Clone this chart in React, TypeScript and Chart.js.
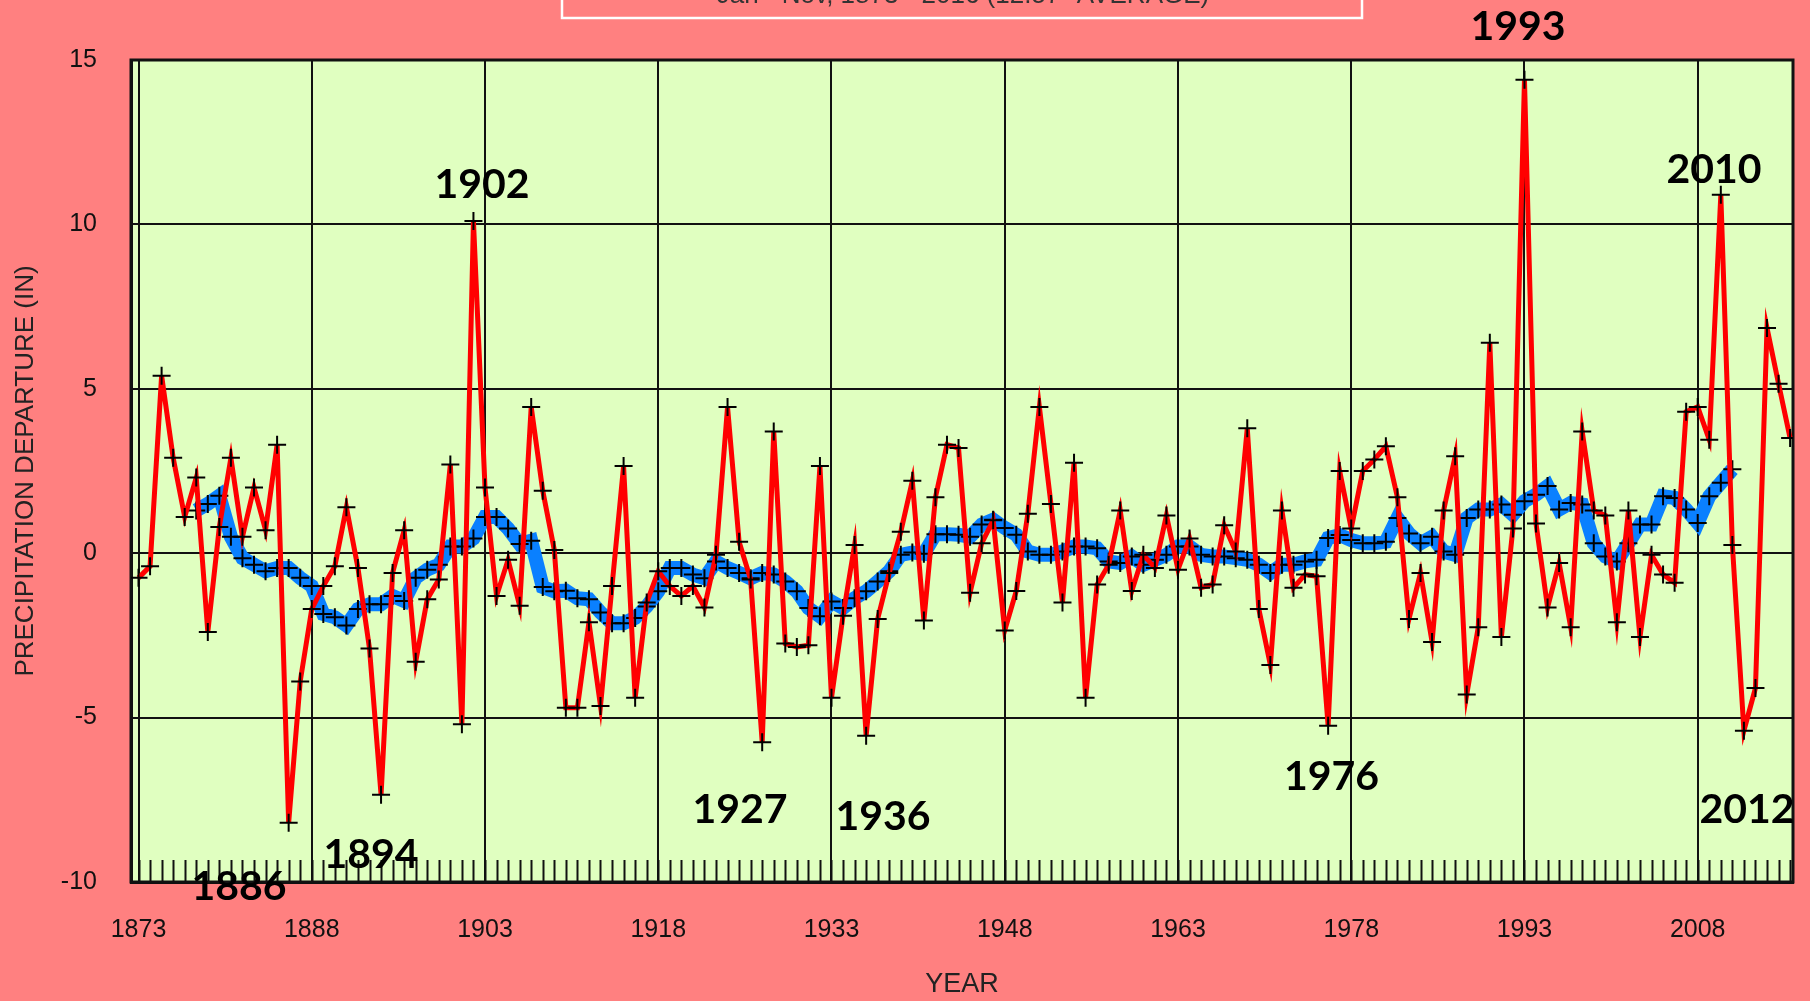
import React, { useEffect, useRef } from "react";
import { Chart, registerables } from "chart.js";

Chart.register(...registerables);

// ---------- data ----------
const FIRST_YEAR = 1873;
const ANNUAL_DEPARTURE = [
  -0.75, -0.4, 5.4, 2.9, 1.1, 2.3, -2.4,
  0.8, 2.9, 0.5, 2.0, 0.7, 3.3, -8.2, -3.9, -1.7, -1.0,
  -0.4, 1.4, -0.45, -2.9, -7.35, -0.6, 0.7, -3.3, -1.4, -0.8,
  2.7, -5.2, 10.1, 2.0, -1.3, -0.2, -1.6, 4.45, 1.9, 0.1,
  -4.7, -4.7, -2.1, -4.65, -1.0, 2.65, -4.4, -1.5, -0.55, -1.0,
  -1.3, -1.0, -1.65, -0.05, 4.45, 0.35, -0.8, -5.75, 3.7, -2.75,
  -2.85, -2.8, 2.65, -4.4, -1.9, 0.25, -5.55, -2.0, -0.6, 0.65,
  2.2, -2.05, 1.7, 3.3, 3.2, -1.2, 0.3, 1.0, -2.35, -1.15,
  1.2, 4.45, 1.5, -1.5, 2.75, -4.4, -0.95, -0.35, 1.3, -1.15,
  -0.05, -0.45, 1.15, -0.5, 0.45, -1.05, -0.95, 0.85, 0.05, 3.8,
  -1.7, -3.4, 1.3, -1.05, -0.65, -0.7, -5.25, 2.5, 0.75, 2.5,
  2.85, 3.25, 1.7, -2.0, -0.6, -2.7, 1.3, 2.95, -4.3, -2.25,
  6.4, -2.55, 0.75, 14.4, 0.9, -1.65, -0.3, -2.25, 3.7, 1.3,
  1.15, -2.1, 1.3, -2.55, -0.05, -0.65, -0.9, 4.3, 4.45, 3.45,
  10.9, 0.25, -5.4, -4.1, 6.85, 5.15, 3.5,
];

const MEAN_FIRST_YEAR = 1878;
const RUNNING_MEAN = [
  1.3, 1.5,
  1.75, 0.5, -0.15, -0.35, -0.55, -0.45, -0.45, -0.75, -1.0, -1.85,
  -1.95, -2.2, -1.7, -1.55, -1.55, -1.3, -1.45, -0.75, -0.5, -0.35,
  0.2, 0.2, 0.45, 1.1, 1.1, 0.75, 0.28, 0.38, -1.03, -1.16,
  -1.14, -1.37, -1.4, -1.8, -2.13, -2.13, -1.97, -1.62, -1.16, -0.45,
  -0.45, -0.65, -0.76, -0.25, -0.45, -0.6, -0.76, -0.6, -0.65, -0.86,
  -1.16, -1.67, -1.92, -1.47, -1.67, -1.37, -1.16, -0.86, -0.55, -0.05,
  0.02, -0.02, 0.58, 0.58, 0.56, 0.5, 0.87, 1.02, 0.77, 0.56,
  0.05, -0.05, -0.05, 0.05, 0.2, 0.2, 0.15, -0.25, -0.3, -0.1,
  -0.35, -0.2, -0.05, 0.2, 0.2, -0.05, -0.1, -0.1, -0.15, -0.2,
  -0.35, -0.6, -0.35, -0.35, -0.25, -0.2, 0.46, 0.55, 0.4, 0.3,
  0.3, 0.35, 1.07, 0.6, 0.3, 0.5, 0.05, -0.05, 1.07, 1.33,
  1.33, 1.48, 1.17, 1.58, 1.78, 2.04, 1.33, 1.53, 1.48, 0.3,
  -0.1, -0.25, 0.3, 0.87, 0.87, 1.73, 1.68, 1.33, 0.92, 1.73,
  2.14, 2.55,
];

const X_TICKS = [1873, 1888, 1903, 1918, 1933, 1948, 1963, 1978, 1993, 2008];
const Y_TICKS = [-10, -5, 0, 5, 10, 15];
const X_MIN = 1872.35;
const X_MAX = 2016.25;

const ANNOTATION_TEXTS = ["1993", "2010", "2012", "1976", "1902", "1927", "1936", "1894", "1886"];
const ANNOTATION_YEARS = [1992.44, 2009.41, 2012.27, 1976.29, 1902.74, 1925.08, 1937.46, 1893.13, 1881.7];
const ANNOTATION_VALUES = [16.0, 11.65, -7.81, -6.81, 11.2, -7.81, -8.02, -9.18, -10.15];

const TITLE_TEXT = 'Jan - Nov, 1873 - 2016 (12.57" AVERAGE)';
const Y_TITLE = "PRECIPITATION DEPARTURE (IN)";
const X_TITLE = "YEAR";

// ---------- styles ----------
const PAGE_BG = "#FF8080";
const PLOT_BG = "#E0FFC0";
const RED = "#FF0000";
const BLUE = "#0A80FF";
const AXIS_FONT = "'Liberation Sans', Arial, sans-serif";

const backgroundPlugin = {
  id: "bgPlugin",
  beforeDraw(chart: any) {
    const { ctx, chartArea } = chart;
    ctx.save();
    ctx.fillStyle = PAGE_BG;
    ctx.fillRect(0, 0, chart.width, chart.height);
    ctx.fillStyle = PLOT_BG;
    ctx.fillRect(chartArea.left, chartArea.top, chartArea.right - chartArea.left, chartArea.bottom - chartArea.top);
    ctx.restore();
  },
  beforeDatasetsDraw(chart: any) {
    const { ctx, chartArea, scales } = chart;
    const x = scales.x;
    ctx.save();
    ctx.strokeStyle = "#111";
    ctx.lineWidth = 2;
    const lastYear = FIRST_YEAR + ANNUAL_DEPARTURE.length - 1;
    for (let yr = FIRST_YEAR; yr <= lastYear; yr++) {
      const px = Math.round(x.getPixelForValue(yr)) + 0.5;
      ctx.beginPath();
      ctx.moveTo(px, chartArea.bottom - 22);
      ctx.lineTo(px, chartArea.bottom);
      ctx.stroke();
    }
    ctx.lineWidth = 3;
    ctx.strokeStyle = "#111";
    ctx.strokeRect(chartArea.left, chartArea.top, chartArea.right - chartArea.left, chartArea.bottom - chartArea.top);
    ctx.restore();
  },
  afterDraw(chart: any) {
    const { ctx, scales } = chart;
    ctx.save();
    // title box (mostly cut off at top)
    ctx.strokeStyle = "#FFFFFF";
    ctx.lineWidth = 2.5;
    ctx.strokeRect(562, -20, 800, 38);
    ctx.fillStyle = "#333";
    ctx.font = "26px " + AXIS_FONT;
    ctx.textAlign = "center";
    ctx.textBaseline = "alphabetic";
    ctx.fillText(TITLE_TEXT, 963, 3);
    // year annotations
    ctx.fillStyle = "#000";
    ctx.font = "bold 41px Lato, 'Open Sans', sans-serif";
    ctx.textBaseline = "middle";
    ANNOTATION_TEXTS.forEach((t, i) => {
      ctx.fillText(t, scales.x.getPixelForValue(ANNOTATION_YEARS[i]), scales.y.getPixelForValue(ANNOTATION_VALUES[i]));
    });
    ctx.restore();
  },
};

export default function App() {
  const canvasRef = useRef<HTMLCanvasElement>(null);

  useEffect(() => {
    document.body.style.margin = "0";
    const canvas = canvasRef.current;
    if (!canvas) return;

    const redData = ANNUAL_DEPARTURE.map((v, i) => ({ x: FIRST_YEAR + i, y: v }));
    const blueData = RUNNING_MEAN.map((v, i) => ({ x: MEAN_FIRST_YEAR + i, y: v }));

    const chart = new Chart(canvas, {
      type: "line",
      data: {
        datasets: [
          {
            label: "Annual departure",
            data: redData,
            borderColor: RED,
            borderWidth: 5,
            pointStyle: "cross",
            pointRadius: 9,
            pointBorderColor: "#000",
            pointBackgroundColor: "#000",
            pointBorderWidth: 2,
            tension: 0,
          },
          {
            label: "Running mean",
            data: blueData,
            borderColor: BLUE,
            borderWidth: 14,
            pointStyle: "cross",
            pointRadius: 9,
            pointBorderColor: "#000",
            pointBackgroundColor: "#000",
            pointBorderWidth: 2,
            tension: 0,
          },
        ],
      },
      options: {
        animation: false,
        responsive: false,
        maintainAspectRatio: false,
        layout: { padding: { left: 0, right: 17, top: 60, bottom: 0 } },
        plugins: { legend: { display: false }, tooltip: { enabled: false } },
        scales: {
          x: {
            type: "linear",
            min: X_MIN,
            max: X_MAX,
            afterBuildTicks: (s: any) => {
              s.ticks = X_TICKS.map((v) => ({ value: v }));
            },
            afterFit: (s: any) => {
              s.height = 119;
            },
            ticks: {
              autoSkip: false,
              maxRotation: 0,
              padding: 33,
              color: "#111",
              font: { family: AXIS_FONT, size: 25 },
              callback: (v: any) => String(v),
            },
            grid: { color: "#111", lineWidth: 2, drawTicks: false },
            border: { display: true, color: "#111", width: 3 },
            title: {
              display: true,
              text: X_TITLE,
              color: "#222",
              font: { family: AXIS_FONT, size: 27 },
              padding: { top: 0, bottom: 0 },
            },
          },
          y: {
            type: "linear",
            min: -10,
            max: 15,
            afterBuildTicks: (s: any) => {
              s.ticks = Y_TICKS.map((v) => ({ value: v }));
            },
            afterFit: (s: any) => {
              s.width = 131;
            },
            ticks: {
              padding: 34,
              color: "#111",
              font: { family: AXIS_FONT, size: 25 },
              callback: (v: any) => String(v),
            },
            grid: { color: "#111", lineWidth: 2, drawTicks: false },
            border: { display: true, color: "#111", width: 3 },
            title: {
              display: true,
              text: Y_TITLE,
              color: "#222",
              font: { family: AXIS_FONT, size: 26 },
              padding: { top: 10, bottom: 0 },
            },
          },
        },
      },
      plugins: [backgroundPlugin],
    });

    return () => chart.destroy();
  }, []);

  return (
    <div style={{ width: 1810, height: 1001, background: PAGE_BG, position: "relative", overflow: "hidden" }}>
      <canvas ref={canvasRef} width={1810} height={1001} style={{ display: "block" }} />
    </div>
  );
}
